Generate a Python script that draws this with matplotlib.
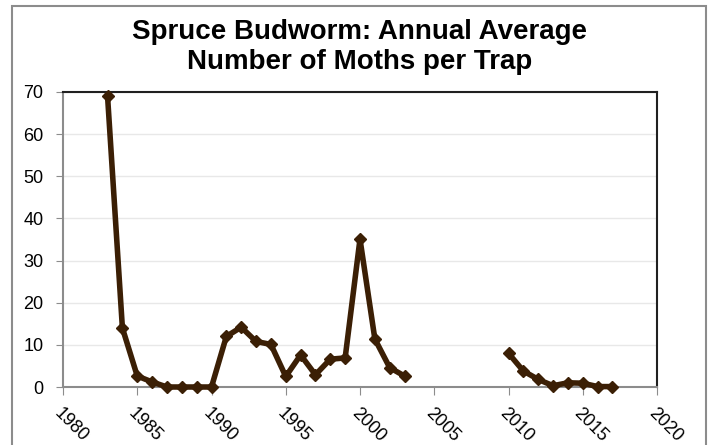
import numpy as np
import matplotlib.pyplot as plt
from matplotlib.patches import Rectangle

years = list(range(1983, 2018))
moths = [69, 14.0, 2.6, 1.2, 0, 0, 0, 0, 12.0, 14.2, 10.8, 10.1, 2.5, 7.6,
         2.9, 6.6, 6.9, 35.1, 11.4, 4.6, 2.6,
         None, None, None, None, None, None,
         8.0, 3.8, 1.8, 0.3, 1.0, 0.9, 0.1, 0.1]
x_ticks = list(range(1980, 2021, 5))
y_ticks = list(range(0, 71, 10))

plt.rcParams['font.family'] = ['Liberation Sans', 'DejaVu Sans']

vals = np.array([np.nan if v is None else v for v in moths], dtype=float)

fig = plt.figure(figsize=(7.1, 4.45), dpi=100)
ax = fig.add_axes([63 / 710, 1 - 387 / 445, (657 - 63) / 710, (387 - 92) / 445])

# outer chart frame
fig.patches.append(Rectangle((12 / 710, -0.05), (706 - 12) / 710, 1 - 6 / 445 + 0.05,
                             transform=fig.transFigure, fill=False,
                             edgecolor='#8c8c8c', linewidth=1.5))

ax.plot(years, vals, color='#3b1f05', linewidth=4, marker='D', markersize=6.5,
        markerfacecolor='#3b1f05', markeredgecolor='#3b1f05',
        solid_joinstyle='round', clip_on=False, zorder=3)

ax.set_xlim(1980, 2020)
ax.set_ylim(0, 70)
ax.set_xticks(x_ticks)
ax.set_yticks(y_ticks)
ax.set_xticklabels([str(t) for t in x_ticks], rotation=-45, ha='left', va='top',
                   rotation_mode='anchor', fontsize=13)
ax.tick_params(axis='y', labelsize=13, length=5, color='#8c8c8c', pad=9)
ax.tick_params(axis='x', length=6, color='#8c8c8c', pad=7)
ax.grid(axis='y', color='#e8e8e8', linewidth=1)
ax.set_axisbelow(True)

for side in ['left', 'bottom']:
    ax.spines[side].set_color('#8c8c8c')
    ax.spines[side].set_linewidth(1.5)
for side in ['top', 'right']:
    ax.spines[side].set_color('#202020')
    ax.spines[side].set_linewidth(1.5)

fig.text(0.507, 1 - 47 / 445, 'Spruce Budworm: Annual Average\nNumber of Moths per Trap',
         ha='center', va='center', fontsize=20, fontweight='bold', linespacing=1.2)

fig.savefig('out.png', dpi=100)
